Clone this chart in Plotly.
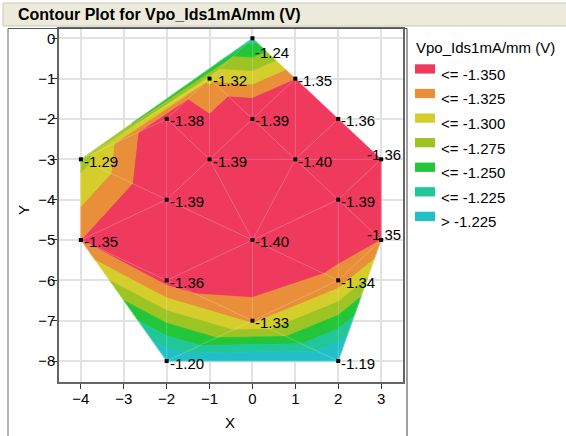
import plotly.graph_objects as go

# Measurement sites and the measured Vpo_Ids1mA/mm (V) value at each site
site_x = [0, -1, 1, -2, 0, 2, -4, -1, 1, 3, -2, 2, -4, 0, 3, -2, 2, 0, -2, 2]
site_y = [0, -1, -1, -2, -2, -2, -3, -3, -3, -3, -4, -4, -5, -5, -5, -6, -6, -7, -8, -8]
vpo = [-1.24, -1.32, -1.35, -1.38, -1.39, -1.36, -1.29, -1.39, -1.40, -1.36,
       -1.39, -1.39, -1.35, -1.40, -1.35, -1.36, -1.34, -1.33, -1.20, -1.19]

# Triangulation of the sites (indices into the site arrays)
triangles = [
    (0, 6, 1), (1, 6, 3), (6, 3, 10), (6, 10, 12), (1, 3, 7), (1, 7, 4),
    (0, 1, 4), (0, 4, 2), (3, 7, 10), (7, 4, 8), (4, 2, 8), (2, 5, 8),
    (8, 5, 9), (7, 10, 13), (7, 13, 8), (8, 13, 11), (8, 11, 9), (11, 9, 14),
    (12, 10, 15), (10, 15, 13), (13, 11, 16), (11, 16, 14), (12, 15, 18),
    (15, 13, 17), (13, 16, 17), (15, 17, 18), (16, 17, 19), (17, 18, 19),
    (14, 16, 19),
]

# Contour levels and band colours
levels = [-1.350, -1.325, -1.300, -1.275, -1.250, -1.225]
band_labels = ["<= -1.350", "<= -1.325", "<= -1.300", "<= -1.275",
               "<= -1.250", "<= -1.225", "> -1.225"]
band_colors = ["#EF3A5E", "#E98F39", "#D5CD2B", "#9BC424",
               "#23C539", "#22C799", "#21C0C8"]

X_RANGE = [-4.51, 3.51]
Y_RANGE = [-8.52, 0.23]

# Plot-area placement in pixels (566 x 436 canvas)
W, H = 566, 436
PL, PR, PT, PB = 59, 403, 29, 382
FONT = "Liberation Sans, Arial, sans-serif"


def clip(poly, level, keep_above):
    """Clip a polygon of (x, y, v) vertices against v >= level or v <= level."""
    out = []
    n = len(poly)
    for i in range(n):
        a = poly[i]
        b = poly[(i + 1) % n]
        ina = a[2] >= level if keep_above else a[2] <= level
        inb = b[2] >= level if keep_above else b[2] <= level
        if ina:
            out.append(a)
        if ina != inb:
            t = (level - a[2]) / (b[2] - a[2])
            out.append((a[0] + t * (b[0] - a[0]), a[1] + t * (b[1] - a[1]), level))
    return out


def px(xp):
    return (xp - PL) / (PR - PL)


def py(yp):
    return (PB - yp) / (PB - PT)


fig = go.Figure()

# Filled contour bands, built triangle by triangle with linear interpolation
for k, color in enumerate(band_colors):
    lo = levels[k - 1] if k > 0 else None
    hi = levels[k] if k < len(levels) else None
    bx, by = [], []
    for tri in triangles:
        poly = [(site_x[i], site_y[i], vpo[i]) for i in tri]
        if lo is not None:
            poly = clip(poly, lo, True)
        if hi is not None and poly:
            poly = clip(poly, hi, False)
        if len(poly) >= 3:
            bx += [p[0] for p in poly] + [poly[0][0], None]
            by += [p[1] for p in poly] + [poly[0][1], None]
    if bx:
        fig.add_trace(go.Scatter(
            x=bx, y=by, mode="lines", fill="toself", fillcolor=color,
            line=dict(color=color, width=0.8), hoverinfo="skip", showlegend=False))

# Faint triangulation mesh
edges = set()
for tri in triangles:
    for a, b in ((tri[0], tri[1]), (tri[1], tri[2]), (tri[2], tri[0])):
        edges.add((min(a, b), max(a, b)))
ex, ey = [], []
for a, b in sorted(edges):
    ex += [site_x[a], site_x[b], None]
    ey += [site_y[a], site_y[b], None]
fig.add_trace(go.Scatter(x=ex, y=ey, mode="lines",
                         line=dict(color="rgba(255,255,255,0.22)", width=1),
                         hoverinfo="skip", showlegend=False))

# Site markers
fig.add_trace(go.Scatter(x=site_x, y=site_y, mode="markers",
                         marker=dict(symbol="square", size=4, color="black"),
                         hoverinfo="skip", showlegend=False))

annotations = []
# Value labels, kept inside the frame near the top and right edges
label_w = 0.85
for xv, yv, v in zip(site_x, site_y, vpo):
    ann = dict(x=xv, y=yv, xref="x", yref="y", text=f"{v:.2f}", showarrow=False,
               font=dict(family=FONT, size=15, color="black"),
               xanchor="left", yanchor="middle", xshift=1, yshift=-2)
    if xv + label_w > X_RANGE[1]:
        ann.update(x=X_RANGE[1], xanchor="right", xshift=0, yshift=5)
    if yv > Y_RANGE[1] - 0.5:
        ann.update(yshift=-14)
    annotations.append(ann)

# Axis titles
annotations.append(dict(x=px(230), y=py(422), xref="paper", yref="paper", text="X",
                        showarrow=False, font=dict(family=FONT, size=15, color="black"),
                        xanchor="center", yanchor="middle"))
annotations.append(dict(x=px(23), y=py(210), xref="paper", yref="paper", text="Y",
                        textangle=-90, showarrow=False,
                        font=dict(family=FONT, size=15, color="black"),
                        xanchor="center", yanchor="middle"))

# Report title
annotations.append(dict(x=px(16), y=py(15), xref="paper", yref="paper",
                        text="<b>Contour Plot for Vpo_Ids1mA/mm (V)</b>", showarrow=False,
                        font=dict(family=FONT, size=16, color="black"),
                        xanchor="left", yanchor="middle"))

shapes = [
    # title bar
    dict(type="rect", xref="paper", yref="paper", x0=px(3), x1=px(570), y0=py(26), y1=py(3),
         fillcolor="#ECEADB", line=dict(color="#C9C7B8", width=1), layer="below"),
    # report panel outline
    dict(type="line", xref="paper", yref="paper", x0=px(8), x1=px(407), y0=py(28.5), y1=py(28.5),
         line=dict(color="#555555", width=1)),
    dict(type="line", xref="paper", yref="paper", x0=px(8), x1=px(8), y0=py(28.5), y1=py(440),
         line=dict(color="#666666", width=1)),
    dict(type="line", xref="paper", yref="paper", x0=px(407), x1=px(407), y0=py(28.5), y1=py(440),
         line=dict(color="#444444", width=1)),
]

# Legend: title, colour swatches and band labels
annotations.append(dict(x=px(414), y=py(47), xref="paper", yref="paper",
                        text="Vpo_Ids1mA/mm (V)", showarrow=False,
                        font=dict(family=FONT, size=15, color="black"),
                        xanchor="left", yanchor="middle"))
for k, (lab, color) in enumerate(zip(band_labels, band_colors)):
    top = 64.3 + 24.57 * k
    shapes.append(dict(type="rect", xref="paper", yref="paper",
                       x0=px(415), x1=px(435), y0=py(top + 9.3), y1=py(top),
                       fillcolor=color, line=dict(width=0)))
    annotations.append(dict(x=px(439), y=py(top + 10), xref="paper", yref="paper",
                            text=lab, showarrow=False,
                            font=dict(family=FONT, size=15, color="black"),
                            xanchor="left", yanchor="middle"))

axis_common = dict(
    showgrid=True, gridcolor="#E2E2E2", gridwidth=1.5, zeroline=False,
    showline=True, linecolor="#666666", linewidth=1.5, mirror=True,
    ticks="outside", ticklen=5, tickcolor="#333333", tickwidth=1,
    tickfont=dict(family=FONT, size=15, color="black"),
)

fig.update_layout(
    width=W, height=H, autosize=False,
    margin=dict(l=PL, r=W - PR, t=PT, b=H - PB),
    paper_bgcolor="white", plot_bgcolor="white",
    xaxis=dict(range=X_RANGE, tickvals=list(range(-4, 4)), ticklabelstandoff=-3,
               **axis_common),
    yaxis=dict(range=Y_RANGE, tickvals=list(range(-8, 1)), ticklabelstandoff=-6,
               **axis_common),
    annotations=annotations, shapes=shapes,
    showlegend=False, hovermode=False,
)

fig.write_html("out.html")
